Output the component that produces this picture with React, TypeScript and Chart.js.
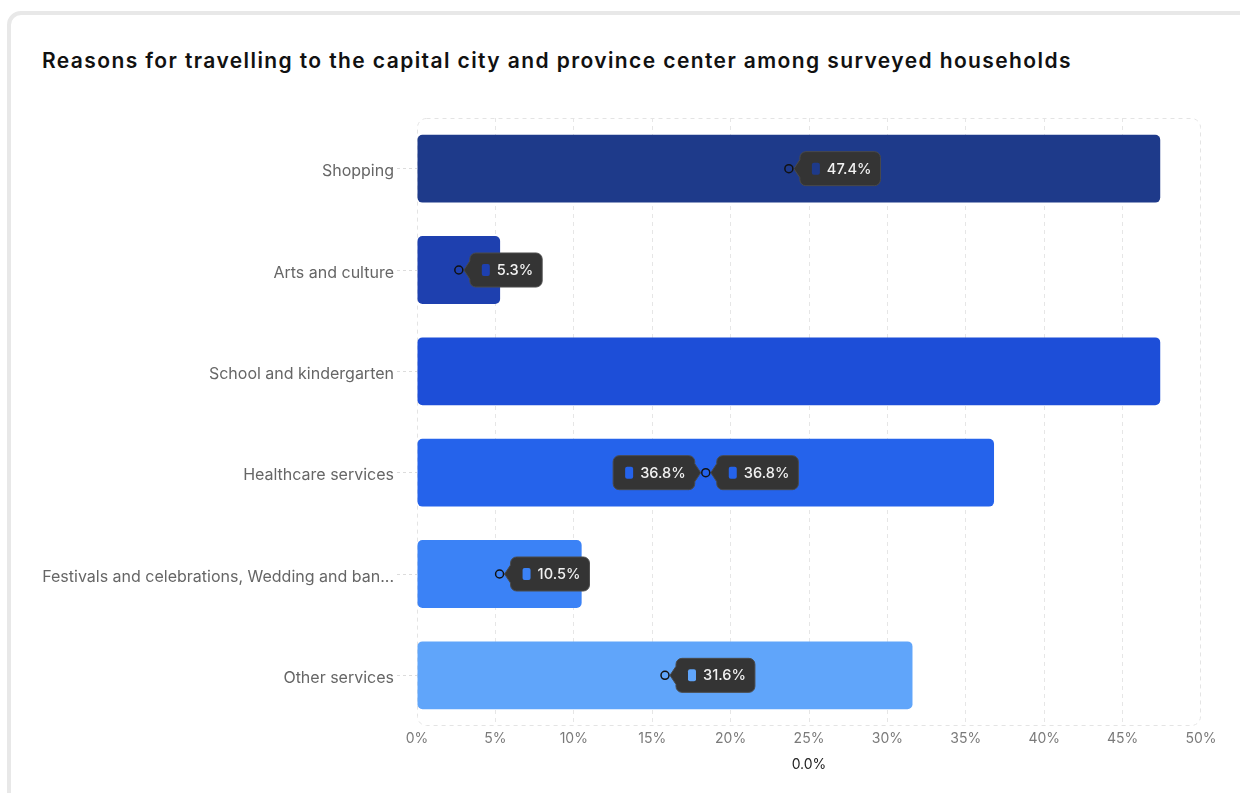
import React, { useEffect, useRef } from "react";
import { Chart, registerables } from "chart.js";

Chart.register(...registerables);

const chartTitle = "Reasons for travelling to the capital city and province center among surveyed households";
const categories = [
  "Shopping",
  "Arts and culture",
  "School and kindergarten",
  "Healthcare services",
  "Festivals and celebrations, Wedding and ban...",
  "Other services",
];
const values = [47.4, 5.3, 47.4, 36.8, 10.5, 31.6];
const tooltipSides: string[][] = [["right"], ["right"], [], ["left", "right"], ["right"], ["right"]];
const xAxisTitle = "0.0%";
const xMin = 0;
const xMax = 50;
const xStep = 5;
const barColors = ["#1e3a8a", "#1e40af", "#1d4ed8", "#2563eb", "#3b82f6", "#60a5fa"];

const FONT = "Inter, 'Noto Sans', sans-serif";

function drawTip(ctx: CanvasRenderingContext2D, cx: number, cy: number, side: string, text: string, color: string) {
  ctx.font = `500 14.6px ${FONT}`;
  const tw = ctx.measureText(text).width;
  const padL = 12;
  const sq = 8;
  const gap = 7;
  const padR = 9;
  const w = padL + sq + gap + tw + padR;
  const h = 34;
  const r = 6;
  const off = 11;
  const tipOff = 5;
  const ch = 9;
  const by = cy - h / 2;
  let bx: number;
  ctx.beginPath();
  if (side === "right") {
    bx = cx + off;
    const tipX = cx + tipOff;
    ctx.moveTo(bx + r, by);
    ctx.lineTo(bx + w - r, by);
    ctx.arcTo(bx + w, by, bx + w, by + r, r);
    ctx.lineTo(bx + w, by + h - r);
    ctx.arcTo(bx + w, by + h, bx + w - r, by + h, r);
    ctx.lineTo(bx + r, by + h);
    ctx.arcTo(bx, by + h, bx, by + h - r, r);
    ctx.lineTo(bx, cy + ch);
    ctx.lineTo(tipX, cy);
    ctx.lineTo(bx, cy - ch);
    ctx.lineTo(bx, by + r);
    ctx.arcTo(bx, by, bx + r, by, r);
  } else {
    bx = cx - off - w;
    const tipX = cx - tipOff;
    const rx = bx + w;
    ctx.moveTo(bx + r, by);
    ctx.lineTo(rx - r, by);
    ctx.arcTo(rx, by, rx, by + r, r);
    ctx.lineTo(rx, cy - ch);
    ctx.lineTo(tipX, cy);
    ctx.lineTo(rx, cy + ch);
    ctx.lineTo(rx, by + h - r);
    ctx.arcTo(rx, by + h, rx - r, by + h, r);
    ctx.lineTo(bx + r, by + h);
    ctx.arcTo(bx, by + h, bx, by + h - r, r);
    ctx.lineTo(bx, by + r);
    ctx.arcTo(bx, by, bx + r, by, r);
  }
  ctx.closePath();
  ctx.fillStyle = "#343434";
  ctx.fill();
  ctx.lineWidth = 1;
  ctx.strokeStyle = "#4a4a4a";
  ctx.stroke();

  const sx = bx + padL;
  const sy = cy - 6;
  ctx.beginPath();
  (ctx as any).roundRect(sx, sy, sq, 12, 2);
  ctx.fillStyle = color;
  ctx.fill();

  ctx.fillStyle = "#f2f2f2";
  ctx.textAlign = "left";
  ctx.textBaseline = "middle";
  ctx.fillText(text, sx + sq + gap, cy + 0.5);
}

const framePlugin = {
  id: "roundedFrame",
  beforeDatasetsDraw(chart: any) {
    const { ctx, chartArea } = chart;
    const { left, top, right, bottom } = chartArea;
    ctx.save();
    ctx.beginPath();
    (ctx as any).roundRect(left + 0.5, top + 0.5, right - left - 1, bottom - top - 1, 9);
    ctx.setLineDash([4, 4]);
    ctx.lineWidth = 1;
    ctx.strokeStyle = "#e4e4e4";
    ctx.stroke();
    ctx.restore();
  },
};

const markerPlugin = {
  id: "markers",
  afterDatasetsDraw(chart: any) {
    const ctx: CanvasRenderingContext2D = chart.ctx;
    const meta = chart.getDatasetMeta(0);
    ctx.save();
    meta.data.forEach((el: any, i: number) => {
      const sides = tooltipSides[i];
      if (!sides || !sides.length) return;
      const { x, y, base } = el.getProps(["x", "y", "base"], true);
      const cx = (x + base) / 2;
      const label = `${values[i].toFixed(1)}%`;
      sides.forEach((s) => drawTip(ctx, cx, y, s, label, barColors[i]));
      ctx.beginPath();
      ctx.arc(cx, y, 4, 0, Math.PI * 2);
      ctx.lineWidth = 1.5;
      ctx.strokeStyle = "#111";
      ctx.stroke();
    });
    ctx.restore();
  },
};

function BarChart() {
  const ref = useRef<HTMLCanvasElement>(null);
  useEffect(() => {
    if (!ref.current) return;
    Chart.defaults.font.family = FONT;
    const chart = new Chart(ref.current, {
      type: "bar",
      data: {
        labels: categories,
        datasets: [
          {
            data: values,
            backgroundColor: barColors,
            borderRadius: 5,
            borderSkipped: false,
            barPercentage: 0.67,
            categoryPercentage: 1,
          },
        ],
      },
      options: {
        indexAxis: "y",
        responsive: false,
        maintainAspectRatio: false,
        animation: false,
        layout: { padding: { top: 18, right: 39, left: 0, bottom: 0 } },
        plugins: { legend: { display: false }, tooltip: { enabled: false } },
        scales: {
          x: {
            min: xMin,
            max: xMax,
            ticks: {
              stepSize: xStep,
              callback: (v: any) => `${v}%`,
              color: "#7a7a7a",
              font: { size: 14, family: FONT },
              padding: 4,
              maxRotation: 0,
            },
            grid: {
              color: (c: any) =>
                c.tick && (c.tick.value === xMin || c.tick.value === xMax) ? "rgba(0,0,0,0)" : "#e6e6e6",
              drawTicks: false,
              lineWidth: 1,
            },
            border: { display: false, dash: [4, 4] },
            title: {
              display: true,
              text: xAxisTitle,
              color: "#222",
              font: { size: 14, family: FONT },
              padding: { top: 0, bottom: 20 },
            },
            afterFit: (s: any) => {
              s.height = 67;
            },
          },
          y: {
            grid: {
              offset: false,
              drawOnChartArea: false,
              drawTicks: true,
              tickLength: 20,
              tickColor: "#dcdcdc",
              tickBorderDash: [3, 3],
            },
            border: { display: false },
            ticks: {
              color: "#666",
              font: { size: 16, family: FONT },
              padding: 3,
              labelOffset: 3,
            },
            afterFit: (s: any) => {
              s.width = 417;
            },
          },
        },
      } as any,
      plugins: [framePlugin, markerPlugin],
    });
    return () => chart.destroy();
  }, []);
  return (
    <canvas
      ref={ref}
      width={1240}
      height={693}
      style={{ position: "absolute", left: 0, top: 100, width: 1240, height: 693 }}
    />
  );
}

export default function App() {
  return (
    <div
      style={{
        position: "fixed",
        left: 0,
        top: 0,
        width: 1240,
        height: 793,
        overflow: "hidden",
        background: "#fff",
        fontFamily: FONT,
      }}
    >
      <div
        style={{
          position: "absolute",
          left: 7,
          top: 11,
          width: 1280,
          height: 820,
          border: "4px solid #e8e8e8",
          borderRadius: 14,
          boxSizing: "border-box",
          background: "#fff",
        }}
      />
      <div
        style={{
          position: "absolute",
          left: 42,
          top: 47,
          fontSize: 21,
          fontWeight: 600,
          color: "#111",
          lineHeight: "28px",
          whiteSpace: "nowrap",
          letterSpacing: "1.4px",
        }}
      >
        {chartTitle}
      </div>
      <BarChart />
    </div>
  );
}
